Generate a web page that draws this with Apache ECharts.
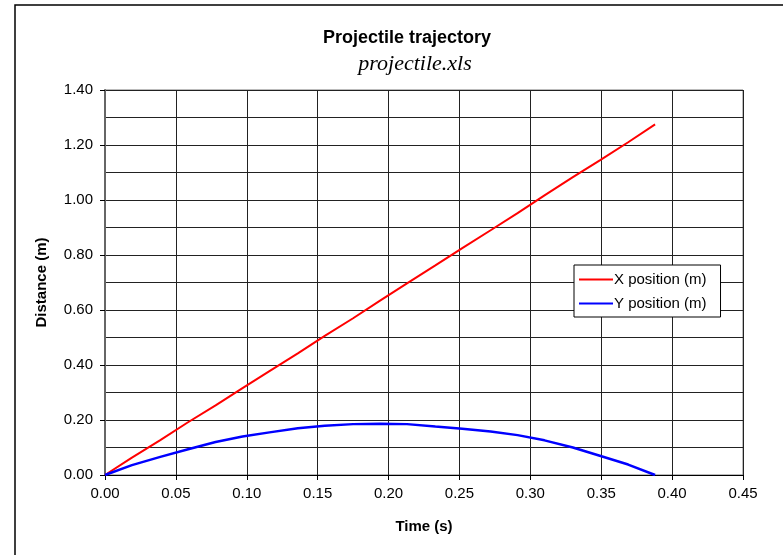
<!DOCTYPE html>
<html>
<head>
<meta charset="utf-8">
<script src="https://cdn.jsdelivr.net/npm/echarts@6/dist/echarts.min.js"></script>
<style>
html,body{margin:0;padding:0;background:#fff;}
#chart{width:783px;height:555px;}
</style>
</head>
<body>
<div id="chart"></div>
<script>
const timeS = [0, 0.019, 0.039, 0.058, 0.078, 0.097, 0.116, 0.136, 0.155, 0.175, 0.194, 0.213, 0.233, 0.252, 0.272, 0.291, 0.310, 0.330, 0.349, 0.369, 0.388];
const xPos  = [0, 0.063, 0.127, 0.190, 0.253, 0.316, 0.378, 0.442, 0.506, 0.570, 0.634, 0.697, 0.762, 0.825, 0.890, 0.952, 1.017, 1.083, 1.144, 1.210, 1.275];
const yPos  = [0, 0.036, 0.066, 0.093, 0.120, 0.140, 0.155, 0.170, 0.179, 0.185, 0.186, 0.185, 0.176, 0.168, 0.158, 0.145, 0.126, 0.100, 0.070, 0.038, 0];
const seriesNames = ['X position (m)', 'Y position (m)'];

const font = 'Liberation Sans, Arial, sans-serif';
const chart = echarts.init(document.getElementById('chart'));
chart.setOption({
  animation: false,
  backgroundColor: '#fff',
  title: [
    {text: 'Projectile trajectory', left: 402, top: 24, textAlign: 'center',
     textStyle: {fontFamily: font, fontSize: 18, fontWeight: 'bold', color: '#000'}},
    {text: 'projectile.xls', left: 410, top: 48, textAlign: 'center',
     textStyle: {fontFamily: 'Liberation Serif, Times New Roman, serif', fontSize: 22, fontStyle: 'italic', fontWeight: 'normal', color: '#000'}}
  ],
  graphic: [
    {type: 'rect', shape: {x: 15, y: 5, width: 800, height: 600}, style: {fill: 'none', stroke: '#000', lineWidth: 1.5}, silent: true}
  ],
  grid: {left: 105, right: 40, top: 90, bottom: 80, show: true, borderColor: '#777', borderWidth: 1},
  legend: {
    orient: 'vertical', left: 574, top: 265,
    backgroundColor: '#fff', borderColor: '#000', borderWidth: 1,
    padding: [7, 14, 6, 5], itemGap: 9, itemWidth: 34, itemHeight: 2, icon: 'rect',
    textStyle: {fontFamily: font, fontSize: 15, color: '#000', padding: [0, 0, 0, -4]},
    data: seriesNames
  },
  xAxis: {
    type: 'value', min: 0, max: 0.45, interval: 0.05,
    name: 'Time (s)', nameLocation: 'middle', nameGap: 44,
    nameTextStyle: {fontFamily: font, fontSize: 15, fontWeight: 'bold', color: '#000'},
    axisLine: {show: true, onZero: false, lineStyle: {color: '#000', width: 1}},
    axisTick: {show: true, inside: false, length: 5, lineStyle: {color: '#000'}},
    axisLabel: {fontFamily: font, fontSize: 15, color: '#000', margin: 11, formatter: v => v.toFixed(2)},
    splitLine: {show: true, lineStyle: {color: '#222', width: 1}}
  },
  yAxis: {
    type: 'value', min: 0, max: 1.4, interval: 0.2,
    name: 'Distance (m)', nameLocation: 'middle', nameGap: 56, nameRotate: 90,
    nameTextStyle: {fontFamily: font, fontSize: 15, fontWeight: 'bold', color: '#000'},
    axisLine: {show: true, lineStyle: {color: '#666', width: 2}},
    axisTick: {show: true, inside: false, length: 5, lineStyle: {color: '#000'}},
    axisLabel: {fontFamily: font, fontSize: 15, color: '#000', margin: 12, formatter: v => v.toFixed(2)},
    splitLine: {show: true, lineStyle: {color: '#222', width: 1}},
    minorTick: {show: false, splitNumber: 2},
    minorSplitLine: {show: true, lineStyle: {color: '#222', width: 1}}
  },
  series: [
    {name: seriesNames[0], type: 'line', symbol: 'none', color: '#ff0000',
     lineStyle: {width: 2, color: '#ff0000'},
     data: timeS.map((t, i) => [t, xPos[i]])},
    {name: seriesNames[1], type: 'line', symbol: 'none', color: '#0000ff',
     lineStyle: {width: 2.5, color: '#0000ff'},
     data: timeS.map((t, i) => [t, yPos[i]])}
  ]
});
</script>
</body>
</html>
